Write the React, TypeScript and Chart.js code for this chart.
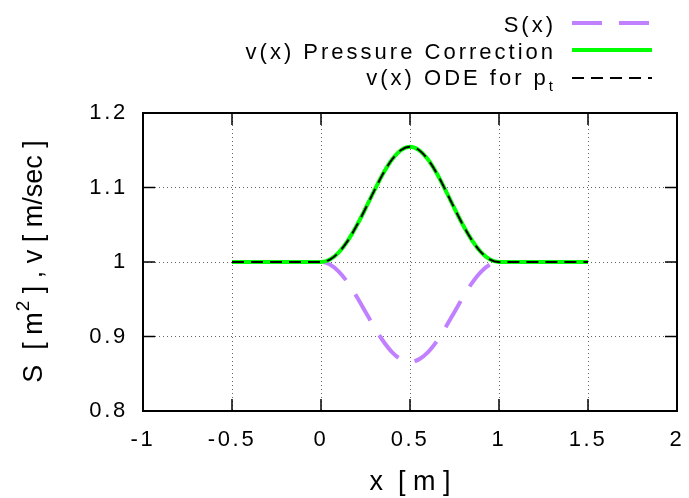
import React, { useEffect, useRef } from 'react';
import { Chart, registerables } from 'chart.js';

Chart.register(...registerables);

// ---- data ----
const X_POS = [-0.5, 0, 0.05, 0.1, 0.15, 0.2, 0.25, 0.3, 0.35, 0.4, 0.45, 0.5, 0.55, 0.6, 0.65, 0.7, 0.75, 0.8, 0.85, 0.9, 0.95, 1, 1.5];
const S_AREA = [1, 1, 0.9967, 0.9872, 0.9724, 0.9537, 0.933, 0.9123, 0.8936, 0.8788, 0.8693, 0.866, 0.8693, 0.8788, 0.8936, 0.9123, 0.933, 0.9537, 0.9724, 0.9872, 0.9967, 1, 1];
const V_PRESSURE = [1, 1, 1.0033, 1.013, 1.0284, 1.0486, 1.0718, 1.0961, 1.1191, 1.1379, 1.1503, 1.1547, 1.1503, 1.1379, 1.1191, 1.0961, 1.0718, 1.0486, 1.0284, 1.013, 1.0033, 1, 1];
const V_ODE = [1, 1, 1.0033, 1.013, 1.0284, 1.0486, 1.0718, 1.0961, 1.1191, 1.1379, 1.1503, 1.1547, 1.1503, 1.1379, 1.1191, 1.0961, 1.0718, 1.0486, 1.0284, 1.013, 1.0033, 1, 1];
const X_TICKS = [-1, -0.5, 0, 0.5, 1, 1.5, 2];
const Y_TICKS = [0.8, 0.9, 1, 1.1, 1.2];
const SERIES_LABELS = ['S(x)', 'v(x) Pressure Correction', 'v(x) ODE for p'];
const SERIES_SUBSCRIPT = ['', '', 't'];
const X_TITLE = 'x  [ m ]';
const Y_TITLE_PARTS = ['S  [ m', '2', ' ] , v [ m/sec ]'];

const FONT = '"Liberation Sans", Arial, Helvetica, sans-serif';
const SPACING = '2.7px';
const LEGEND_SPACING = '3px';
const COLORS = ['#c080ff', '#00ff00', '#000000'];
const WIDTHS = [4, 4, 2];
const DASHES = [[30, 17], [], [12, 7]];

const framePlugin = {
  id: 'gnuFrame',
  beforeDraw(chart: any) {
    const ctx = chart.ctx;
    ctx.fillStyle = '#ffffff';
    ctx.fillRect(0, 0, chart.width, chart.height);
    (ctx as any).letterSpacing = SPACING;
  },
  afterDraw(chart: any) {
    const ctx = chart.ctx;
    const { left, right, top, bottom } = chart.chartArea;
    const xs = chart.scales.x;
    const ys = chart.scales.y;
    ctx.save();
    ctx.setLineDash([]);
    ctx.strokeStyle = '#000';
    ctx.lineWidth = 1.5;
    const line = (x1: number, y1: number, x2: number, y2: number) => {
      ctx.beginPath();
      ctx.moveTo(x1, y1);
      ctx.lineTo(x2, y2);
      ctx.stroke();
    };
    xs.ticks.forEach((t: any) => {
      const px = xs.getPixelForValue(t.value);
      if (px <= left + 1 || px >= right - 1) return;
      line(px, bottom, px, bottom - 12);
      line(px, top, px, top + 12);
    });
    ys.ticks.forEach((t: any) => {
      const py = ys.getPixelForValue(t.value);
      if (py <= top + 1 || py >= bottom - 1) return;
      line(left, py, left + 12, py);
      line(right, py, right - 12, py);
    });
    ctx.lineWidth = 2;
    ctx.strokeRect(left, top, right - left, bottom - top);

    // axis titles
    (ctx as any).letterSpacing = '0px';
    ctx.fillStyle = '#000';
    ctx.font = `27px ${FONT}`;
    ctx.textAlign = 'center';
    ctx.textBaseline = 'alphabetic';
    ctx.fillText(X_TITLE, (left + right) / 2, 490);

    ctx.save();
    ctx.translate(42, 262);
    ctx.rotate(-Math.PI / 2);
    ctx.textAlign = 'left';
    const bigFont = `27px ${FONT}`;
    const supFont = `19px ${FONT}`;
    ctx.font = bigFont;
    const w0 = ctx.measureText(Y_TITLE_PARTS[0]).width;
    const w2 = ctx.measureText(Y_TITLE_PARTS[2]).width;
    ctx.font = supFont;
    const w1 = ctx.measureText(Y_TITLE_PARTS[1]).width;
    let cx = -(w0 + w1 + w2) / 2;
    ctx.font = bigFont;
    ctx.fillText(Y_TITLE_PARTS[0], cx, 0);
    cx += w0;
    ctx.font = supFont;
    ctx.fillText(Y_TITLE_PARTS[1], cx + 1, -13);
    cx += w1 + 1;
    ctx.font = bigFont;
    ctx.fillText(Y_TITLE_PARTS[2], cx, 0);
    ctx.restore();

    // legend
    (ctx as any).letterSpacing = LEGEND_SPACING;
    const textRight = 556;
    const lineY = [23, 50, 78];
    const baseY = [32, 59, 85];
    SERIES_LABELS.forEach((label, i) => {
      ctx.textAlign = 'right';
      let xr = textRight;
      if (SERIES_SUBSCRIPT[i]) {
        ctx.font = `15px ${FONT}`;
        const sw = ctx.measureText(SERIES_SUBSCRIPT[i]).width;
        ctx.fillText(SERIES_SUBSCRIPT[i], xr, baseY[i] + 6);
        xr -= sw;
      }
      ctx.font = `22px ${FONT}`;
      ctx.fillText(label, xr, baseY[i]);
      ctx.strokeStyle = COLORS[i];
      ctx.lineWidth = WIDTHS[i];
      ctx.setLineDash(DASHES[i]);
      ctx.lineCap = 'butt';
      line(572, lineY[i], 652, lineY[i]);
    });
    ctx.restore();
  },
};

export default function App() {
  const ref = useRef<HTMLCanvasElement | null>(null);
  useEffect(() => {
    if (!ref.current) return;
    const mk = (vals: number[]) => X_POS.map((x, i) => ({ x, y: vals[i] }));
    const ds = [S_AREA, V_PRESSURE, V_ODE].map((vals, i) => ({
      label: SERIES_LABELS[i] + SERIES_SUBSCRIPT[i],
      data: mk(vals),
      borderColor: COLORS[i],
      borderWidth: WIDTHS[i],
      borderDash: DASHES[i],
      borderDashOffset: i === 0 ? 3 : 0,
      borderCapStyle: 'butt',
      pointRadius: 0,
      fill: false,
      cubicInterpolationMode: 'monotone',
      order: 3 - i,
    }));
    const tickFont = { family: FONT, size: 22 };
    const chart = new Chart(ref.current, {
      type: 'line',
      data: { datasets: ds as any },
      options: {
        responsive: false,
        animation: false,
        devicePixelRatio: 1,
        events: [],
        layout: { padding: { left: 0, right: 12, top: 113, bottom: 0 } },
        plugins: { legend: { display: false }, tooltip: { enabled: false } },
        scales: {
          x: {
            type: 'linear',
            min: -1,
            max: 2,
            afterBuildTicks: (s: any) => {
              s.ticks = X_TICKS.map((v) => ({ value: v }));
            },
            afterFit: (s: any) => {
              s.height = 87;
              s.paddingLeft = 0;
              s.paddingRight = 0;
            },
            grid: { color: '#666', lineWidth: 1, drawTicks: false },
            border: { display: false, dash: [1, 3] },
            ticks: {
              font: tickFont,
              color: '#000',
              padding: 16,
              maxRotation: 0,
              autoSkip: false,
              callback: (v: any) => String(v),
            },
          },
          y: {
            type: 'linear',
            min: 0.8,
            max: 1.2,
            afterBuildTicks: (s: any) => {
              s.ticks = Y_TICKS.map((v) => ({ value: v }));
            },
            afterFit: (s: any) => {
              s.width = 143;
              s.paddingTop = 0;
              s.paddingBottom = 0;
            },
            grid: { color: '#666', lineWidth: 1, drawTicks: false },
            border: { display: false, dash: [1, 3] },
            ticks: {
              font: tickFont,
              color: '#000',
              padding: 15,
              autoSkip: false,
              callback: (v: any) => String(v),
            },
          },
        },
      } as any,
      plugins: [framePlugin],
    });
    return () => chart.destroy();
  }, []);
  return (
    <div style={{ position: 'fixed', left: 0, top: 0, width: 689, height: 498 }}>
      <canvas ref={ref} width={689} height={498} style={{ display: 'block' }} />
    </div>
  );
}
